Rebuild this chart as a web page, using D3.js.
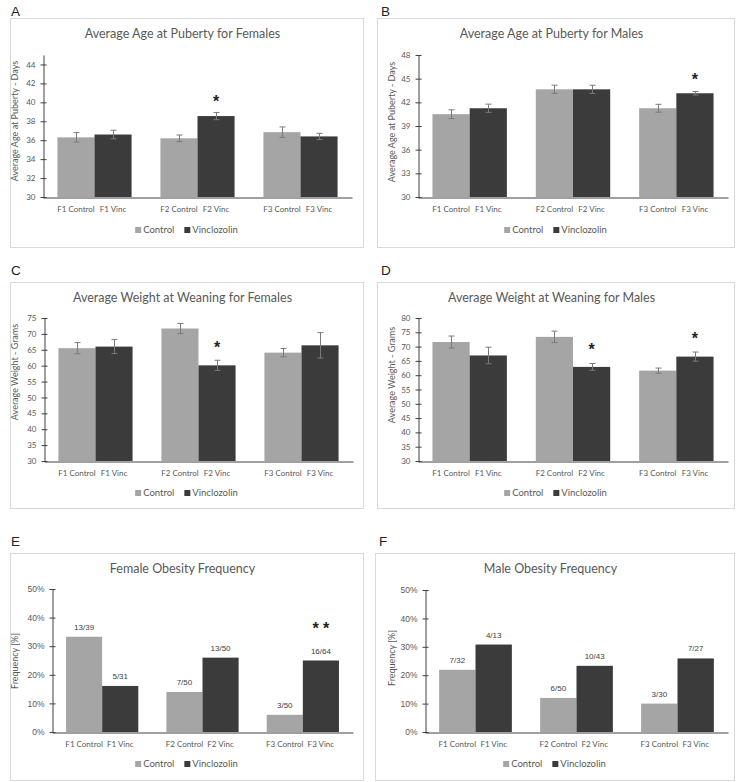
<!DOCTYPE html>
<html>
<head>
<meta charset="utf-8">
<script src="https://cdn.jsdelivr.net/npm/d3@7/dist/d3.min.js"></script>
<style>
  html, body { margin: 0; padding: 0; background: #fff; }
  svg { display: block; }
</style>
</head>
<body>
<svg id="chart" width="740" height="782"></svg>
<script>
// ---------- DATA ----------
const generations = ["F1", "F2", "F3"];
const groupSuffix = ["Control", "Vinc"];
const legendNames = ["Control", "Vinclozolin"];

// A: Average Age at Puberty for Females (days)
const pubFemControl = [36.3, 36.2, 36.85];
const pubFemControlErr = [0.5, 0.35, 0.55];
const pubFemVinc = [36.6, 38.55, 36.4];
const pubFemVincErr = [0.45, 0.38, 0.33];
const pubFemTicks = [30, 32, 34, 36, 38, 40, 42, 44];
const pubFemStars = [{ gen: "F2", series: 1, value: 40.5, text: "*" }];

// B: Average Age at Puberty for Males (days)
const pubMaleControl = [40.5, 43.65, 41.25];
const pubMaleControlErr = [0.55, 0.52, 0.5];
const pubMaleVinc = [41.25, 43.65, 43.15];
const pubMaleVincErr = [0.52, 0.52, 0.22];
const pubMaleTicks = [30, 33, 36, 39, 42, 45, 48];
const pubMaleStars = [{ gen: "F3", series: 1, value: 45.3, text: "*" }];

// C: Average Weight at Weaning for Females (grams)
const wtFemControl = [65.5, 71.7, 64.1];
const wtFemControlErr = [1.75, 1.6, 1.3];
const wtFemVinc = [66.0, 60.1, 66.4];
const wtFemVincErr = [2.2, 1.6, 4.0];
const wtFemTicks = [30, 35, 40, 45, 50, 55, 60, 65, 70, 75];
const wtFemStars = [{ gen: "F2", series: 1, value: 66.8, text: "*" }];

// D: Average Weight at Weaning for Males (grams)
const wtMaleControl = [71.6, 73.4, 61.6];
const wtMaleControlErr = [2.1, 2.0, 0.9];
const wtMaleVinc = [66.9, 62.9, 66.5];
const wtMaleVincErr = [2.9, 1.2, 1.6];
const wtMaleTicks = [30, 35, 40, 45, 50, 55, 60, 65, 70, 75, 80];
const wtMaleStars = [
  { gen: "F2", series: 1, value: 70.2, text: "*" },
  { gen: "F3", series: 1, value: 74.0, text: "*" }
];

// E: Female Obesity Frequency (%)
const obFemControl = [33.3, 14.0, 6.0];
const obFemVinc = [16.1, 26.0, 25.0];
const obFemControlLabels = ["13/39", "7/50", "3/50"];
const obFemVincLabels = ["5/31", "13/50", "16/64"];
const obFemStars = [{ gen: "F3", series: 1, value: 37.4, text: "* *" }];

// F: Male Obesity Frequency (%)
const obMaleControl = [21.9, 12.0, 10.0];
const obMaleVinc = [30.8, 23.3, 25.9];
const obMaleControlLabels = ["7/32", "6/50", "3/30"];
const obMaleVincLabels = ["4/13", "10/43", "7/27"];
const obMaleStars = [];

const pctTicks = [0, 10, 20, 30, 40, 50];

// ---------- STYLE ----------
const colors = ["#a5a5a5", "#3b3b3b"];
const calibri = "Lato, 'Open Sans', sans-serif";
const arial = "'Liberation Sans', Arial, sans-serif";
const textGray = "#595959";

const svg = d3.select("#chart");

const panels = [
  { letter: "A", title: "Average Age at Puberty for Females", yTitle: "Average Age at Puberty - Days",
    series: [pubFemControl, pubFemVinc], errs: [pubFemControlErr, pubFemVincErr], labels: null,
    ticks: pubFemTicks, domain: [30, 45], fmt: d => d, stars: pubFemStars, tickFont: calibri, tickSize: 8,
    box: [10, 18, 363, 247], plot: [43, 352, 55, 197], letterPos: [11, 16], titleY: 34, yTitleX: 15, yTitleY: 121, catY: 209, legY: 230 },
  { letter: "B", title: "Average Age at Puberty for Males", yTitle: "Average Age at Puberty - Days",
    series: [pubMaleControl, pubMaleVinc], errs: [pubMaleControlErr, pubMaleVincErr], labels: null,
    ticks: pubMaleTicks, domain: [30, 48], fmt: d => d, stars: pubMaleStars, tickFont: calibri, tickSize: 8,
    box: [377, 18, 734, 247], plot: [418, 728, 55, 197], letterPos: [381, 16], titleY: 34, yTitleX: 392, yTitleY: 122, catY: 209, legY: 230 },
  { letter: "C", title: "Average Weight at Weaning for Females", yTitle: "Average Weight - Grams",
    series: [wtFemControl, wtFemVinc], errs: [wtFemControlErr, wtFemVincErr], labels: null,
    ticks: wtFemTicks, domain: [30, 75], fmt: d => d, stars: wtFemStars, tickFont: calibri, tickSize: 8,
    box: [10, 282, 363, 508], plot: [44, 353, 318, 461], letterPos: [11, 275], titleY: 298, yTitleX: 15, yTitleY: 372, catY: 473, legY: 493 },
  { letter: "D", title: "Average Weight at Weaning for Males", yTitle: "Average Weight - Grams",
    series: [wtMaleControl, wtMaleVinc], errs: [wtMaleControlErr, wtMaleVincErr], labels: null,
    ticks: wtMaleTicks, domain: [30, 80], fmt: d => d, stars: wtMaleStars, tickFont: calibri, tickSize: 8,
    box: [377, 282, 734, 508], plot: [418, 728, 318, 461], letterPos: [381, 275], titleY: 298, yTitleX: 392, yTitleY: 375, catY: 473, legY: 493 },
  { letter: "E", title: "Female Obesity Frequency", yTitle: "Frequency [%]",
    series: [obFemControl, obFemVinc], errs: null, labels: [obFemControlLabels, obFemVincLabels],
    ticks: pctTicks, domain: [0, 50], fmt: d => d + "%", stars: obFemStars, tickFont: arial, tickSize: 8.5,
    box: [10, 553, 363, 780], plot: [52, 353, 589, 732], letterPos: [11, 546], titleY: 569, yTitleX: 15, yTitleY: 661, catY: 744, legY: 764 },
  { letter: "F", title: "Male Obesity Frequency", yTitle: "Frequency [%]",
    series: [obMaleControl, obMaleVinc], errs: null, labels: [obMaleControlLabels, obMaleVincLabels],
    ticks: pctTicks, domain: [0, 50], fmt: d => d + "%", stars: obMaleStars, tickFont: arial, tickSize: 8.5,
    box: [375, 553, 734, 780], plot: [425, 728, 590, 732], letterPos: [379, 546], titleY: 569, yTitleX: 392, yTitleY: 658, catY: 744, legY: 764 }
];

panels.forEach(drawPanel);

function drawPanel(p) {
  const g = svg.append("g");
  const [bx0, by0, bx1, by1] = p.box;
  const [px0, px1, py0, py1] = p.plot;

  // panel letter
  g.append("text").attr("x", p.letterPos[0]).attr("y", p.letterPos[1])
    .attr("font-family", arial).attr("font-size", 13.5).attr("fill", "#222")
    .text(p.letter);

  // frame
  g.append("rect").attr("x", bx0 + 0.5).attr("y", by0 + 0.5)
    .attr("width", bx1 - bx0).attr("height", by1 - by0)
    .attr("fill", "#fff").attr("stroke", "#d9d9d9").attr("stroke-width", 1);

  // title
  const cx = (bx0 + bx1) / 2;
  g.append("text").attr("x", cx - 4).attr("y", p.titleY).attr("dy", "0.35em")
    .attr("text-anchor", "middle").attr("font-family", calibri).attr("font-size", 12.5)
    .attr("fill", textGray).text(p.title);

  // scales
  const y = d3.scaleLinear().domain(p.domain).range([py1, py0]);
  const x = d3.scaleBand().domain(generations).range([px0, px1])
    .paddingInner(0.28).paddingOuter(0.14);
  const xs = d3.scaleBand().domain([0, 1]).range([0, x.bandwidth()]);

  // bars
  p.series.forEach((vals, si) => {
    g.append("g").selectAll("rect").data(vals).join("rect")
      .attr("x", (d, i) => x(generations[i]) + xs(si))
      .attr("width", xs.bandwidth())
      .attr("y", d => y(d))
      .attr("height", d => y(p.domain[0]) - y(d))
      .attr("fill", colors[si]);
  });

  // error bars
  if (p.errs) {
    p.series.forEach((vals, si) => {
      const eg = g.append("g").attr("stroke", "#7a7a7a").attr("stroke-width", 1);
      vals.forEach((v, i) => {
        const e = p.errs[si][i];
        const bxc = Math.round(x(generations[i]) + xs(si) + xs.bandwidth() / 2) + 0.5;
        eg.append("line").attr("x1", bxc).attr("x2", bxc).attr("y1", y(v - e)).attr("y2", y(v + e));
        eg.append("line").attr("x1", bxc - 3).attr("x2", bxc + 3).attr("y1", y(v - e)).attr("y2", y(v - e));
        eg.append("line").attr("x1", bxc - 3).attr("x2", bxc + 3).attr("y1", y(v + e)).attr("y2", y(v + e));
      });
    });
  }

  // data labels
  if (p.labels) {
    p.series.forEach((vals, si) => {
      g.append("g").selectAll("text").data(vals).join("text")
        .attr("x", (d, i) => x(generations[i]) + xs(si) + xs.bandwidth() / 2)
        .attr("y", d => y(d) - 7)
        .attr("text-anchor", "middle").attr("font-family", arial).attr("font-size", 8)
        .attr("fill", "#404040")
        .text((d, i) => p.labels[si][i]);
    });
  }

  // stars
  g.append("g").selectAll("text").data(p.stars).join("text")
    .attr("x", d => x(d.gen) + xs(d.series) + xs.bandwidth() / 2)
    .attr("y", d => y(d.value) + 9)
    .attr("text-anchor", "middle").attr("font-family", arial).attr("font-size", 16)
    .attr("font-weight", "bold").attr("fill", "#222")
    .text(d => d.text);

  // y axis
  const ya = g.append("g").attr("transform", `translate(${px0 + 0.5},0)`)
    .call(d3.axisLeft(y).tickValues(p.ticks).tickFormat(p.fmt).tickSizeOuter(0).tickSizeInner(3).tickPadding(5));
  ya.select(".domain").attr("stroke", "#404040");
  ya.selectAll(".tick line").attr("x1", 3).attr("x2", -3).attr("stroke", "#404040");
  ya.selectAll(".tick text").attr("font-family", p.tickFont).attr("font-size", p.tickSize).attr("fill", textGray);

  // x axis baseline
  const xa = g.append("g").attr("transform", `translate(0,${y(p.domain[0]) + 0.5})`)
    .call(d3.axisBottom(x).tickSize(0).tickFormat(""));
  xa.select(".domain").attr("stroke", "#404040");

  // category labels
  generations.forEach(gen => {
    groupSuffix.forEach((suf, si) => {
      g.append("text")
        .attr("x", x(gen) + xs(si) + xs.bandwidth() / 2)
        .attr("y", p.catY).attr("dy", "0.35em")
        .attr("text-anchor", "middle").attr("font-family", calibri).attr("font-size", 8)
        .attr("fill", textGray).text(gen + " " + suf);
    });
  });

  // y title
  g.append("text")
    .attr("transform", `translate(${p.yTitleX},${p.yTitleY}) rotate(-90)`)
    .attr("dy", "0.35em").attr("text-anchor", "middle")
    .attr("font-family", calibri).attr("font-size", 9).attr("fill", textGray)
    .text(p.yTitle);

  // legend
  const lg = g.append("g");
  let lx = 0;
  legendNames.forEach((name, si) => {
    const it = lg.append("g");
    it.append("rect").attr("x", 0).attr("y", -3).attr("width", 6).attr("height", 6).attr("fill", colors[si]);
    const t = it.append("text").attr("x", 8).attr("y", 0).attr("dy", "0.35em")
      .attr("font-family", calibri).attr("font-size", 9.5).attr("fill", textGray).text(name);
    const w = 8 + t.node().getComputedTextLength();
    it.attr("transform", `translate(${lx},0)`);
    lx += w + 10;
  });
  const totalW = lx - 10;
  lg.attr("transform", `translate(${cx - totalW / 2},${p.legY})`);
}
</script>
</body>
</html>
